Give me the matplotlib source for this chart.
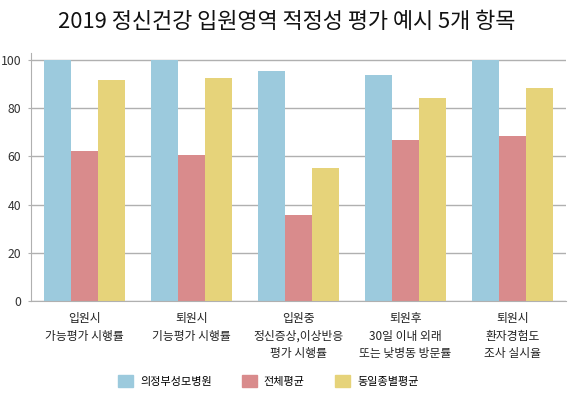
# -*- coding: utf-8 -*-
# 2019 정신건강 입원영역 적정성 평가 - grouped bar chart

import numpy as np
import matplotlib
matplotlib.use("Agg")
import matplotlib.pyplot as plt
from matplotlib.patches import Patch

plt.rcParams['font.family'] = ['Noto Sans CJK KR', 'DejaVu Sans']
plt.rcParams['axes.axisbelow'] = True

# data
categories = [
    "입원시\n가능평가 시행률",
    "퇴원시\n기능평가 시행률",
    "입원중\n정신증상,이상반응\n평가 시행률",
    "퇴원후\n30일 이내 외래\n또는 낮병동 방문률",
    "퇴원시\n환자경험도\n조사 실시율",
]
series_names = ["의정부성모병원", "전체평균", "동일종별평균"]
hospital = [100, 100, 95.4, 93.8, 100]
overall = [62.2, 60.6, 35.7, 66.8, 68.5]
same_type = [91.7, 92.5, 55.2, 84.2, 88.4]
yticks = [0, 20, 40, 60, 80, 100]

colors = ["#9ccadd", "#d98b8c", "#e6d37a"]

fig = plt.figure(figsize=(5.73, 4.04), dpi=100)
ax = fig.add_axes([0.054, 0.255, 0.934, 0.614])

x = np.arange(len(categories))
w = 0.25
for k, vals in enumerate([hospital, overall, same_type]):
    ax.bar(x + (k - 1) * w, vals, w, color=colors[k], label=series_names[k])

ax.set_xlim(-0.5, 4.5)
ax.set_ylim(0, 103)
ax.set_yticks(yticks)
ax.set_yticklabels([str(v) for v in yticks], fontsize=8.8, color="#333333")
ax.yaxis.grid(True, color="#b0b0b0", linewidth=1)
ax.tick_params(axis="y", length=2, color="#b0b0b0", pad=5)
ax.set_xticks(x)
ax.set_xticklabels(categories, fontsize=8.5, linespacing=1.45, color="#222222")
ax.tick_params(axis="x", length=0, pad=8)

for s in ["top", "right"]:
    ax.spines[s].set_visible(False)
ax.spines["left"].set_color("#b0b0b0")
ax.spines["bottom"].set_color("#b0b0b0")

fig.text(0.5, 0.946, "2019 정신건강 입원영역 적정성 평가 예시 5개 항목",
         ha="center", va="center", fontsize=15.8, color="#111111")

handles = [Patch(color=c) for c in colors]
fig.legend(handles, series_names, loc="center", bbox_to_anchor=(0.468, 0.057),
           ncol=3, frameon=False, fontsize=8, handlelength=1.4, handleheight=1.4,
           columnspacing=2.7, handletextpad=0.6)

fig.savefig("out.png", dpi=100)
